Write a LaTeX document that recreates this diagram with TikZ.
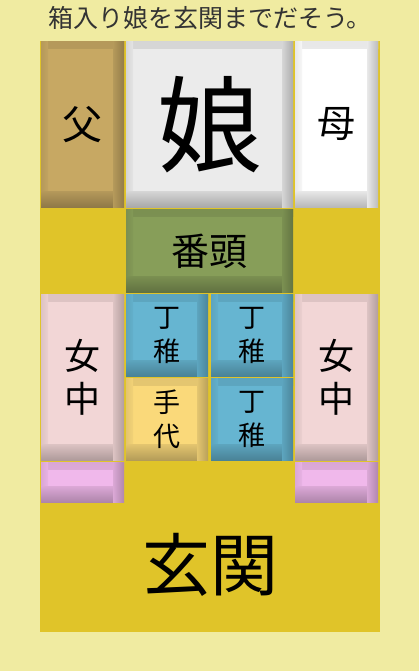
\documentclass[tikz,border=0pt]{standalone}
\usepackage{fontspec}
\newfontfamily\jpfont{Noto Sans CJK JP}
\definecolor{paper}{rgb}{0.94,0.92,0.63}
\definecolor{board}{rgb}{0.88,0.77,0.16}
\definecolor{father}{rgb}{0.78,0.66,0.39}
\definecolor{daughter}{rgb}{0.92,0.92,0.92}
\definecolor{banto}{rgb}{0.53,0.62,0.35}
\definecolor{detchi}{rgb}{0.40,0.71,0.82}
\definecolor{tedai}{rgb}{0.98,0.85,0.48}
\definecolor{jochu}{rgb}{0.95,0.84,0.84}
\definecolor{smallpink}{rgb}{0.94,0.72,0.92}
\colorlet{pcin}{white}
\colorlet{pcout}{gray}
\pgfdeclarehorizontalshading[pcin,pcout]{darkright}{100bp}{color(0bp)=(pcin); color(100bp)=(pcout)}
\pgfdeclarehorizontalshading[pcin,pcout]{darkleft}{100bp}{color(0bp)=(pcout); color(100bp)=(pcin)}
\pgfdeclareverticalshading[pcin,pcout]{darkbottom}{100bp}{color(0bp)=(pcout); color(100bp)=(pcin)}
\pgfdeclareverticalshading[pcin,pcout]{darktop}{100bp}{color(0bp)=(pcin); color(100bp)=(pcout)}
\tikzset{
  piece/.style={fill=#1,inner sep=0pt,outer sep=0pt,align=center,text=black,
    path picture={
      \colorlet{pcin}{#1}\colorlet{pcout}{#1!88!black}
      \shade[shading=darktop]
        ([yshift=-7pt]path picture bounding box.north west) rectangle (path picture bounding box.north east);
      \shade[shading=darkleft]
        (path picture bounding box.north west) rectangle ([xshift=7pt]path picture bounding box.south west);
      \colorlet{pcout}{#1!62!black}
      \shade[shading=darkbottom]
        ([yshift=16pt]path picture bounding box.south west) rectangle ([xshift=-11pt]path picture bounding box.south east);
      \colorlet{pcout}{#1!65!black}
      \shade[shading=darkright]
        ([xshift=-11pt]path picture bounding box.north east) rectangle (path picture bounding box.south east);
    }},
  single/.style={minimum width=82pt,minimum height=82pt},
  tall/.style={minimum width=83pt,minimum height=166pt},
  wide/.style={minimum width=167pt,minimum height=83pt},
  small/.style={minimum width=83pt,minimum height=40pt},
  kanji/.style={font=\jpfont\fontsize{#1}{#1}\selectfont},
  stacked/.style 2 args={font=\jpfont\fontsize{#1}{#2}\selectfont}
}
\begin{document}
\begin{tikzpicture}[x=1pt,y=1pt]
\useasboundingbox (0,0) rectangle (419,671);
\fill[paper] (0,0) rectangle (419,671);
\fill[board] (40,39) rectangle (380,630);
\node[text=black!80,kanji=25] (title) at (210,653) {箱入り娘を玄関までだそう。};
% top row
\node[piece=father,tall,kanji=40] (father) at (82.5,546.5) {父};
\node[piece=daughter,minimum width=167pt,minimum height=166pt,kanji=105] (daughter) at (209.5,546.5) {娘};
\node[piece=white,tall,kanji=38] (mother) at (336.5,546.5) {母};
\node[piece=banto,wide,kanji=38] (banto) at (209.5,420) {番頭};
% middle
\node[piece=jochu,tall,stacked={36}{43}] (jochuL) at (82.5,293.5) {女\\中};
\node[piece=jochu,tall,stacked={36}{43}] (jochuR) at (336.5,293.5) {女\\中};
\node[piece=detchi,single,stacked={27}{34}] (detchiA) at (167,335.5) {丁\\稚};
\node[piece=detchi,single,stacked={27}{34}] (detchiB) at (252,335.5) {丁\\稚};
\node[piece=tedai,single,stacked={27}{34}] (tedai) at (167,251.5) {手\\代};
\node[piece=detchi,single,stacked={27}{34}] (detchiC) at (252,251.5) {丁\\稚};
\node[piece=smallpink,small] (smallL) at (82.5,188) {};
\node[piece=smallpink,small] (smallR) at (336.5,188) {};
% exit
\node[kanji=68] (genkan) at (210,106) {玄関};
\end{tikzpicture}
\end{document}
